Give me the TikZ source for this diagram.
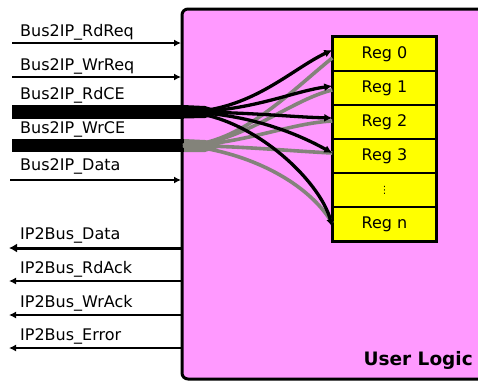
\documentclass[tikz,border=0pt]{standalone}
\usepackage{fontspec}
\setmainfont{DejaVu Sans}
\usetikzlibrary{arrows.meta,calc}
\definecolor{ulpink}{HTML}{FF99FF}
\definecolor{busgray}{HTML}{83837A}
\definecolor{regyellow}{HTML}{FFFF00}
\begin{document}
\begin{tikzpicture}[x=1pt,y=-1pt,
  sig/.style={anchor=base west,inner sep=0pt,font=\fontsize{16}{16}\selectfont},
  inarrow/.style={line width=1.4pt,-{Latex[length=7pt,width=7pt]}},
  outarrow/.style={line width=1.4pt,-{Latex[length=7pt,width=7pt]}},
  bar/.style={fill=black},
  reg/.style={draw,line width=1.5pt,fill=regyellow,minimum width=103pt,minimum height=34pt,inner sep=0pt,font=\fontsize{16}{16}\selectfont},
  blackfan/.style={line width=3.3pt,-{Latex[length=8pt,width=8pt]}},
  grayfan/.style={line width=3.6pt,busgray},
]
\useasboundingbox (0,0) rectangle (478,381);
\fill[white] (0,0) rectangle (478,381);
% user logic box
\draw[line width=3pt,fill=ulpink,rounded corners=6pt] (182,9) rectangle (495,379);
\node[anchor=base east,inner sep=0pt,font=\fontsize{18.5}{18.5}\selectfont\bfseries] (ul) at (473,365) {User Logic};

% coordinates on the box edge
\coordinate (e1) at (181,43);
\coordinate (e2) at (181,77);
\coordinate (e5) at (181,180);
\coordinate (o1) at (182,248);
\coordinate (o2) at (182,281);
\coordinate (o3) at (182,315);
\coordinate (o4) at (182,348);
\coordinate (s1) at (12,43);
\coordinate (s2) at (12,77);
\coordinate (s5) at (10,180);
\coordinate (t1) at (9,248);
\coordinate (t2) at (9,281);
\coordinate (t3) at (9,315);
\coordinate (t4) at (9,348);
\coordinate (rd) at (183,112);
\coordinate (wr) at (183,145.5);

% input labels
\node[sig] (l1) at (20,36) {Bus2IP\_RdReq};
\node[sig] (l2) at (20,70) {Bus2IP\_WrReq};
\node[sig] (l3) at (20,99) {Bus2IP\_RdCE};
\node[sig] (l4) at (20,133) {Bus2IP\_WrCE};
\node[sig] (l5) at (20,170) {Bus2IP\_Data};
% output labels
\node[sig] (m1) at (20,239) {IP2Bus\_Data};
\node[sig] (m2) at (20,273) {IP2Bus\_RdAck};
\node[sig] (m3) at (20,307) {IP2Bus\_WrAck};
\node[sig] (m4) at (20,340) {IP2Bus\_Error};

% input lines
\draw[inarrow] (s1) -- (e1);
\draw[inarrow] (s2) -- (e2);
\draw[inarrow] (s5) -- (e5);
% bus bars
\fill[bar] (12,105) rectangle (184,118.5);
\fill[bar] (12,139) rectangle (184,152);
\fill[black] (183,105) -- (205,106) -- (225,112) -- (205,118) -- (183,118.5) -- cycle;
\fill[busgray] (184,139) -- (205,140) -- (225,146) -- (205,152) -- (184,152) -- cycle;
% output lines
\draw[line width=3pt,-{Latex[length=8pt,width=9pt]}] (o1) -- (t1);
\draw[outarrow] (o2) -- (t2);
\draw[outarrow] (o3) -- (t3);
\draw[outarrow] (o4) -- (t4);

% registers
\node[reg] (r0) at (384.5,54) {Reg 0};
\node[reg] (r1) at (384.5,88) {Reg 1};
\node[reg] (r2) at (384.5,122) {Reg 2};
\node[reg] (r3) at (384.5,156) {Reg 3};
\node[reg,font=\fontsize{10}{10}\selectfont] (r4) at (384.5,190) {⋮};
\node[reg] (r5) at (384.5,224) {Reg n};
\draw[line width=2.5pt] (r0.north west) rectangle (r5.south east);

% gray fan (write enables)
\draw[grayfan] (wr) .. controls (240,145) and (290,92) .. ($(r0.west)+(0,4)$);
\draw[grayfan] (wr) .. controls (240,145) and (290,100) .. ($(r1.west)+(0,2)$);
\draw[grayfan] (wr) .. controls (240,145) and (290,123) .. ($(r2.west)+(0,-1)$);
\draw[grayfan] (wr) .. controls (240,146) and (290,151) .. ($(r3.west)+(0,-3)$);
\draw[grayfan] (wr) .. controls (240,150) and (305,178) .. ($(r5.west)+(0,-1)$);
% black fan (read enables)
\draw[blackfan] (rd) .. controls (250,112) and (290,70) .. ($(r0.west)+(0,-4)$);
\draw[blackfan] (rd) .. controls (250,112) and (290,92) .. ($(r1.west)+(0,-2)$);
\draw[blackfan] (rd) .. controls (250,112) and (290,117) .. ($(r2.west)+(0,-4)$);
\draw[blackfan] (rd) .. controls (250,113) and (300,135) .. ($(r3.west)+(0,-3)$);
\draw[blackfan] (rd) .. controls (250,114) and (320,180) .. ($(r5.west)+(0,3)$);
\end{tikzpicture}
\end{document}
